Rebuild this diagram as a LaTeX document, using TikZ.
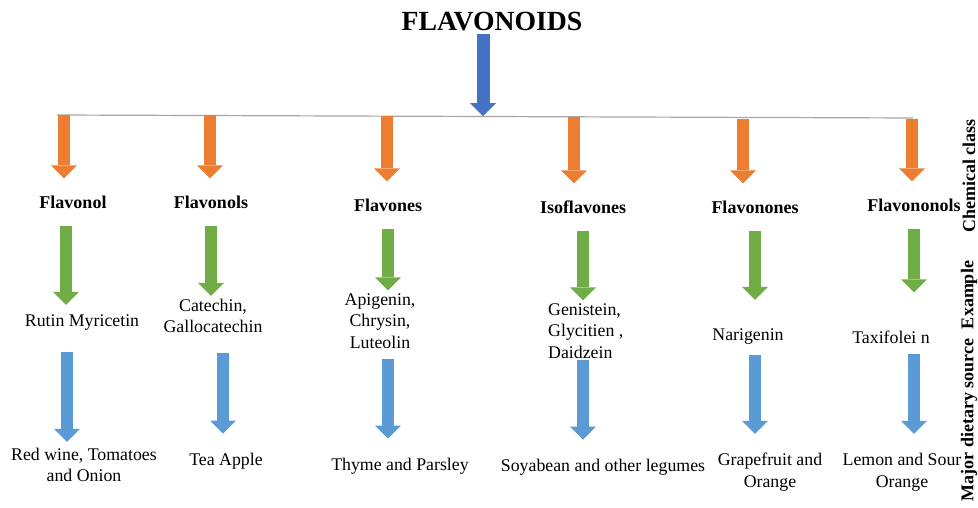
\documentclass[tikz,border=0pt]{standalone}
\usepackage{fontspec}
\setmainfont{Liberation Serif}
\usepackage{xcolor}
\usepackage{tikz}
\usetikzlibrary{arrows.meta,calc}

\definecolor{cOrange}{HTML}{ED7D31}
\definecolor{cGreen}{HTML}{70AD47}
\definecolor{cBlue}{HTML}{5B9BD5}
\definecolor{cDarkBlue}{HTML}{4472C4}
\definecolor{cBar}{HTML}{A6A6A6}

\tikzstyle{tsText} = [
    text=black,
    inner sep=0pt,
    align=center,
    font=\fontsize{17.8}{21.5}\selectfont
]
\tikzstyle{tsClass} = [
    tsText,
    font=\fontsize{18}{22}\selectfont\bfseries
]
\tikzstyle{tsTitle} = [
    tsText,
    font=\fontsize{27.7}{30}\selectfont\bfseries
]
\tikzstyle{tsSide} = [
    tsClass,
    rotate=90
]
\tikzstyle{tsArrow} = [
    line width=12.5pt,
    -{Triangle[width=26pt,length=13pt,line width=0pt]}
]
\tikzstyle{tsOrange} = [tsArrow, draw=cOrange, shorten >=17pt]
\tikzstyle{tsGreen} = [tsArrow, draw=cGreen, shorten <=17pt, shorten >=3pt]
\tikzstyle{tsBlue} = [tsArrow, draw=cBlue, shorten <=10pt, shorten >=19pt]

\begin{document}
\begin{tikzpicture}[x=1pt, y=-1pt]
        \useasboundingbox (0,0) rectangle (978,508);

        % title and bar
        \node[tsTitle] (flav) at (492,22) {FLAVONOIDS};
        \coordinate (barL) at (57,115);
        \coordinate (barR) at (913,118);
        \coordinate (hub) at (483,116.2);
        \draw[cBar, line width=1.2pt] (barL) -- (barR);
        \draw[tsArrow, draw=cDarkBlue, line width=13pt, shorten <=2pt] (flav.south -| hub) -- (hub);

        \coordinate (b1) at (64,115);
        \coordinate (b2) at (210,115.5);
        \coordinate (b3) at (387,116.2);
        \coordinate (b4) at (574,116.8);
        \coordinate (b5) at (743,119);
        \coordinate (b6) at (912,119.5);

        % chemical class
        \node[tsClass] (c1) at (73,202) {Flavonol};
        \node[tsClass] (c2) at (211,202) {Flavonols};
        \node[tsClass] (c3) at (388,205) {Flavones};
        \node[tsClass] (c4) at (583,207) {Isoflavones};
        \node[tsClass] (c5) at (755,207) {Flavonones};
        \node[tsClass] (c6) at (914,205) {Flavononols};

        % example
        \node[tsText] (e1) at (82,323) {Rutin Myricetin};
        \node[tsText] (e2) at (213,316) {Catechin,\\Gallocatechin};
        \node[tsText] (e3) at (380,321) {Apigenin,\\Chrysin,\\Luteolin};
        \node[tsText, align=left, anchor=west] (e4) at (548,331) {Genistein,\\Glycitien ,\\Daidzein};
        \node[tsText] (e5) at (748,337) {Narigenin};
        \node[tsText] (e6) at (891,337) {Taxifolei n};

        % major dietary source
        \node[tsText] (s1) at (84,465) {Red wine, Tomatoes\\and Onion};
        \node[tsText] (s2) at (226,461) {Tea Apple};
        \node[tsText] (s3) at (400,466) {Thyme and Parsley};
        \node[tsText] (s4) at (603,467) {Soyabean and other legumes};
        \node[tsText] (s5) at (770,472) {Grapefruit and\\Orange};
        \node[tsText] (s6) at (902,472) {Lemon and Sour\\Orange};

        \node[tsSide] (sd1) at (969,176) {Chemical class};
        \node[tsSide] (sd2) at (969,295) {Example};
        \node[tsSide] (sd3) at (969,420) {Major dietary source};

        % arrows
        \draw[tsOrange] (b1) -- (b1 |- c1.north);
        \draw[tsOrange] (b2) -- (b2 |- c2.north);
        \draw[tsOrange] (b3) -- (b3 |- c3.north);
        \draw[tsOrange] (b4) -- (b4 |- c4.north);
        \draw[tsOrange] (b5) -- (b5 |- c5.north);
        \draw[tsOrange] (b6) -- (b6 |- c6.north);

        \draw[tsGreen, shorten >=10pt] ($(c1.south)+(-7,0)$) -- ($(c1.south |- e1.north)+(-7,0)$);
        \draw[tsGreen] (c2.south) -- (c2.south |- e2.north);
        \draw[tsGreen] (c3.south) -- (c3.south |- e3.north);
        \draw[tsGreen] (c4.south) -- (c4.south |- e4.north);
        \draw[tsGreen, shorten >=29pt] (c5.south) -- (c5.south |- e5.north);
        \draw[tsGreen, shorten >=38pt] (c6.south) -- (c6.south |- e6.north);

        \draw[tsBlue, shorten <=21pt, shorten >=6pt] ($(c1 |- e1.south)+(-6,0)$) -- ($(c1 |- s1.north)+(-6,0)$);
        \draw[tsBlue, shorten <=20pt] ($(c2 |- e2.south)+(12,0)$) -- ($(c2 |- s2.north)+(12,0)$);
        \draw[tsBlue] (c3 |- e3.south) -- (c3 |- s3.north);
        \draw[tsBlue, shorten <=1pt] (c4 |- e4.south) -- (c4 |- s4.north);
        \draw[tsBlue] (c5 |- e5.south) -- (c5 |- s5.north);
        \draw[tsBlue] (c6 |- e6.south) -- (c6 |- s6.north);
\end{tikzpicture}
\end{document}
